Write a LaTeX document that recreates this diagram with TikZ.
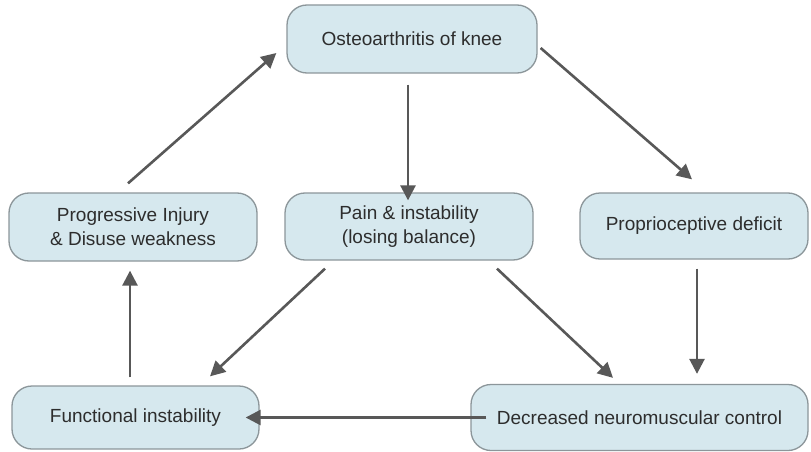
\documentclass[tikz,border=0pt]{standalone}
\usepackage{fontspec}
\setmainfont{Liberation Sans}
\usetikzlibrary{arrows.meta}
\definecolor{boxfill}{RGB}{214,232,238}
\definecolor{boxline}{RGB}{140,150,154}
\definecolor{arrowgray}{RGB}{88,88,88}
\definecolor{txt}{RGB}{45,45,45}
\begin{document}
\begin{tikzpicture}[x=1pt,y=-1pt,
  stage/.style={draw=boxline, line width=1.3pt, fill=boxfill, rounded corners=20pt,
    text=txt, font=\fontsize{19}{24}\selectfont, align=center,
    inner sep=0pt},
  arr/.style={draw=arrowgray, line width=2.6pt,
    -{Triangle[length=15pt,width=15pt]}}]
\useasboundingbox (0,0) rectangle (811,452);
\fill[white] (0,0) rectangle (811,452);

\node[stage, minimum width=250pt, minimum height=68pt] (oa) at (412,39) {Osteoarthritis of knee};
\node[stage, minimum width=248pt, minimum height=68pt] (prog) at (133,227) {Progressive Injury\\\& Disuse weakness};
\node[stage, minimum width=248pt, minimum height=67pt] (pain) at (409,226.5) {Pain \& instability\\(losing balance)};
\node[stage, minimum width=228pt, minimum height=66pt] (prop) at (694,226) {Proprioceptive deficit};
\node[stage, minimum width=247pt, minimum height=63pt] (func) at (135.5,417.5) {Functional instability};
\node[stage, minimum width=337pt, minimum height=66pt] (dec) at (639.5,417.5) {Decreased neuromuscular control};

\draw[arr] ([xshift=-4pt,yshift=-11pt]oa.south) -- ([xshift=-1pt,yshift=-8pt]pain.north);
\draw[arr] ([xshift=-5pt,yshift=9pt]prog.north) -- ([xshift=-10pt,yshift=-14pt]oa.west);
\draw[arr] ([xshift=3pt,yshift=-9pt]oa.east) -- ([xshift=-2pt,yshift=13pt]prop.north);
\draw[arr] ([xshift=-84pt,yshift=-8pt]pain.south) -- ([xshift=74.5pt,yshift=9pt]func.north);
\draw[arr] ([xshift=88pt,yshift=-8pt]pain.south) -- ([xshift=-26.5pt,yshift=6pt]dec.north);
\draw[arr] ([xshift=3pt,yshift=-9pt]prop.south) -- ([xshift=57.5pt,yshift=10pt]dec.north);
\draw[arr] ([xshift=16pt]dec.west) -- ([xshift=-14pt]func.east);
\draw[arr] ([xshift=-5.5pt,yshift=8pt]func.north) -- ([xshift=-3pt,yshift=-9pt]prog.south);
\end{tikzpicture}
\end{document}
